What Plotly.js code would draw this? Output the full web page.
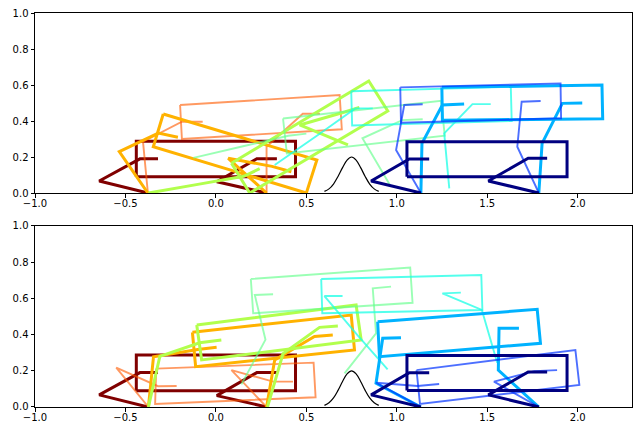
<!DOCTYPE html>
<html>
<head>
<meta charset="utf-8">
<script src="https://cdn.plot.ly/plotly-3.0.1.min.js"></script>
<style>html,body{margin:0;padding:0;background:#fff;}#chart{width:633px;height:423px;}</style>
</head>
<body>
<div id="chart"></div>
<script>
// ---------- data ----------
// Each frame: torso (4 corners), leg A and leg B polylines (hip segment end, hip, knee, foot)
const topTorsoX = [
  [-0.44, 0.44, 0.44, -0.44],
  [-0.198, 0.684, 0.696, -0.188],
  [-0.291, 0.558, 0.500, -0.346],
  [0.086, 0.845, 0.950, 0.187],
  [0.371, 1.245, 1.265, 0.392],
  [0.748, 1.630, 1.635, 0.753],
  [1.249, 2.134, 2.138, 1.252],
  [1.019, 1.905, 1.908, 1.023],
  [1.056, 1.941, 1.941, 1.056]
];
const topTorsoY = [
  [0.090, 0.090, 0.287, 0.287],
  [0.489, 0.544, 0.354, 0.300],
  [0.439, 0.183, 0.000, 0.257],
  [0.165, 0.622, 0.456, 0.000],
  [0.414, 0.512, 0.318, 0.220],
  [0.565, 0.590, 0.400, 0.375],
  [0.587, 0.600, 0.413, 0.404],
  [0.587, 0.609, 0.415, 0.390],
  [0.091, 0.091, 0.285, 0.285]
];
const topLegAX = [
  [-0.32, -0.42, -0.645, -0.376],
  [-0.073, -0.188, -0.403, -0.376],
  [-0.21, -0.318, -0.534, -0.376],
  [0.242, 0.154, -0.10, -0.373],
  [0.50, 0.40, 0.15, -0.125],
  [0.867, 0.77, 0.56, 0.325],
  [1.372, 1.252, 1.139, 1.133],
  [1.143, 1.041, 0.996, 1.133],
  [1.179, 1.069, 0.858, 1.133]
];
const topLegAY = [
  [0.19, 0.19, 0.067, 0],
  [0.396, 0.396, 0.285, 0],
  [0.31, 0.333, 0.23, 0],
  [0.135, 0.093, 0.048, 0],
  [0.33, 0.318, 0.26, 0.195],
  [0.47, 0.47, 0.32, 0.156],
  [0.494, 0.489, 0.276, 0],
  [0.493, 0.489, 0.239, 0],
  [0.189, 0.189, 0.067, 0]
];
const topLegBX = [
  [0.337, 0.226, 0.005, 0.28],
  [0.575, 0.48, 0.28, 0.28],
  [0.417, 0.31, 0.068, 0.28],
  [0.793, 0.712, 0.463, 0.73],
  [1.143, 1.03, 0.81, 0.962],
  [1.519, 1.418, 1.262, 1.29],
  [2.025, 1.915, 1.803, 1.785],
  [1.795, 1.69, 1.666, 1.785],
  [1.831, 1.726, 1.506, 1.785]
];
const topLegBY = [
  [0.19, 0.19, 0.063, 0],
  [0.44, 0.44, 0.257, 0],
  [0.118, 0.148, 0.193, 0],
  [0.476, 0.45, 0.378, 0.267],
  [0.41, 0.405, 0.304, 0.045],
  [0.494, 0.494, 0.331, 0.026],
  [0.50, 0.498, 0.276, 0],
  [0.511, 0.507, 0.257, 0],
  [0.193, 0.193, 0.067, 0]
];

const botTorsoX = [
  [-0.44, 0.44, 0.44, -0.44],
  [-0.33, 0.54, 0.551, -0.336],
  [-0.13, 0.748, 0.766, -0.112],
  [-0.106, 0.775, 0.803, -0.079],
  [0.193, 1.074, 1.087, 0.206],
  [0.582, 1.467, 1.473, 0.588],
  [0.894, 1.776, 1.794, 0.904],
  [1.109, 1.987, 2.009, 1.128],
  [1.056, 1.941, 1.941, 1.056]
];
const botTorsoY = [
  [0.090, 0.090, 0.287, 0.287],
  [0.212, 0.245, 0.054, 0.017],
  [0.413, 0.508, 0.315, 0.223],
  [0.453, 0.564, 0.370, 0.260],
  [0.707, 0.770, 0.576, 0.518],
  [0.707, 0.729, 0.536, 0.518],
  [0.471, 0.540, 0.352, 0.278],
  [0.204, 0.315, 0.122, 0.017],
  [0.091, 0.091, 0.285, 0.285]
];
const botLegAX = [
  [-0.32, -0.42, -0.645, -0.376],
  [-0.217, -0.32, -0.551, -0.373],
  [0.004, -0.10, -0.345, -0.373],
  [0.03, -0.09, -0.31, -0.373],
  [0.316, 0.215, 0.274, 0.141],
  [0.70, 0.60, 0.78, 0.949],
  [1.023, 0.922, 0.885, 1.133],
  [1.234, 1.115, 0.885, 1.133],
  [1.179, 1.069, 0.858, 1.133]
];
const botLegAY = [
  [0.19, 0.19, 0.067, 0],
  [0.116, 0.115, 0.217, 0],
  [0.33, 0.318, 0.278, 0],
  [0.37, 0.355, 0.28, 0],
  [0.623, 0.619, 0.372, 0.125],
  [0.613, 0.613, 0.40, 0.208],
  [0.383, 0.38, 0.131, 0],
  [0.127, 0.116, 0.134, 0],
  [0.189, 0.189, 0.067, 0]
];
const botLegBX = [
  [0.337, 0.226, 0.005, 0.28],
  [0.426, 0.316, 0.086, 0.28],
  [0.646, 0.545, 0.325, 0.28],
  [0.674, 0.573, 0.371, 0.285],
  [0.968, 0.867, 0.885, 0.711],
  [1.354, 1.252, 1.47, 1.555],
  [1.675, 1.565, 1.561, 1.785],
  [1.886, 1.76, 1.537, 1.785],
  [1.831, 1.726, 1.506, 1.785]
];
const botLegBY = [
  [0.19, 0.19, 0.063, 0],
  [0.14, 0.14, 0.204, 0],
  [0.398, 0.39, 0.26, 0],
  [0.447, 0.44, 0.295, 0],
  [0.665, 0.656, 0.407, 0.186],
  [0.632, 0.628, 0.536, 0.245],
  [0.435, 0.435, 0.204, 0],
  [0.204, 0.198, 0.14, 0],
  [0.193, 0.193, 0.067, 0]
];

const hillX = [0.60, 0.625, 0.65, 0.675, 0.70, 0.725, 0.75, 0.775, 0.80, 0.825, 0.85, 0.875, 0.90];
const hillY = [0.009, 0.023, 0.05, 0.092, 0.141, 0.183, 0.20, 0.183, 0.141, 0.092, 0.05, 0.023, 0.009];

const xTickVals = [-1.0, -0.5, 0.0, 0.5, 1.0, 1.5, 2.0];
const xTickText = ['\u22121.0', '\u22120.5', '0.0', '0.5', '1.0', '1.5', '2.0'];
const yTickVals = [0.0, 0.2, 0.4, 0.6, 0.8, 1.0];
const yTickText = ['0.0', '0.2', '0.4', '0.6', '0.8', '1.0'];

// ---------- styles ----------
const frameColors = ['#800000', 'rgba(255,90,0,0.62)', '#ffb200', '#b2ff4d',
  'rgba(100,255,140,0.65)', 'rgba(25,255,230,0.75)', '#00b2ff', 'rgba(0,50,255,0.7)', '#000080'];
const frameWidths = [3, 1.9, 3, 3, 1.9, 1.9, 3, 1.9, 3];

const traces = [];
function addPanel(tx, ty, ax, ay, bx, by, xa, ya) {
  traces.push({x: hillX, y: hillY, xaxis: xa, yaxis: ya, mode: 'lines',
    line: {color: '#000', width: 1.2, shape: 'spline'}, hoverinfo: 'skip', showlegend: false});
  for (let i = 0; i < tx.length; i++) {
    const X = [...tx[i], tx[i][0], null, ...ax[i], null, ...bx[i]];
    const Y = [...ty[i], ty[i][0], null, ...ay[i], null, ...by[i]];
    traces.push({x: X, y: Y, xaxis: xa, yaxis: ya, mode: 'lines', connectgaps: false,
      line: {color: frameColors[i], width: frameWidths[i]}, hoverinfo: 'skip', showlegend: false});
  }
}
addPanel(topTorsoX, topTorsoY, topLegAX, topLegAY, topLegBX, topLegBY, 'x', 'y');
addPanel(botTorsoX, botTorsoY, botLegAX, botLegAY, botLegBX, botLegBY, 'x2', 'y2');

const axBase = {showline: true, linecolor: '#000', linewidth: 1, mirror: true,
  ticks: 'outside', ticklen: 3.5, tickwidth: 1, tickcolor: '#000',
  showgrid: false, zeroline: false, fixedrange: true,
  tickfont: {family: 'DejaVu Sans', size: 10, color: '#000'}};
const xa = Object.assign({}, axBase, {range: [-1.0, 2.3], tickmode: 'array', tickvals: xTickVals, ticktext: xTickText, ticklabelstandoff: -3});
const ya = Object.assign({}, axBase, {range: [0, 1], tickmode: 'array', tickvals: yTickVals, ticktext: yTickText});

const layout = {
  width: 633, height: 423,
  margin: {l: 35, r: 1, t: 13, b: 16},
  paper_bgcolor: '#fff', plot_bgcolor: '#fff',
  showlegend: false,
  xaxis: Object.assign({}, xa, {anchor: 'y'}),
  yaxis: Object.assign({}, ya, {domain: [0.5431, 1], anchor: 'x'}),
  xaxis2: Object.assign({}, xa, {anchor: 'y2'}),
  yaxis2: Object.assign({}, ya, {domain: [0, 0.4594], anchor: 'x2'})
};
Plotly.newPlot('chart', traces, layout, {staticPlot: true, displayModeBar: false});
</script>
</body>
</html>
